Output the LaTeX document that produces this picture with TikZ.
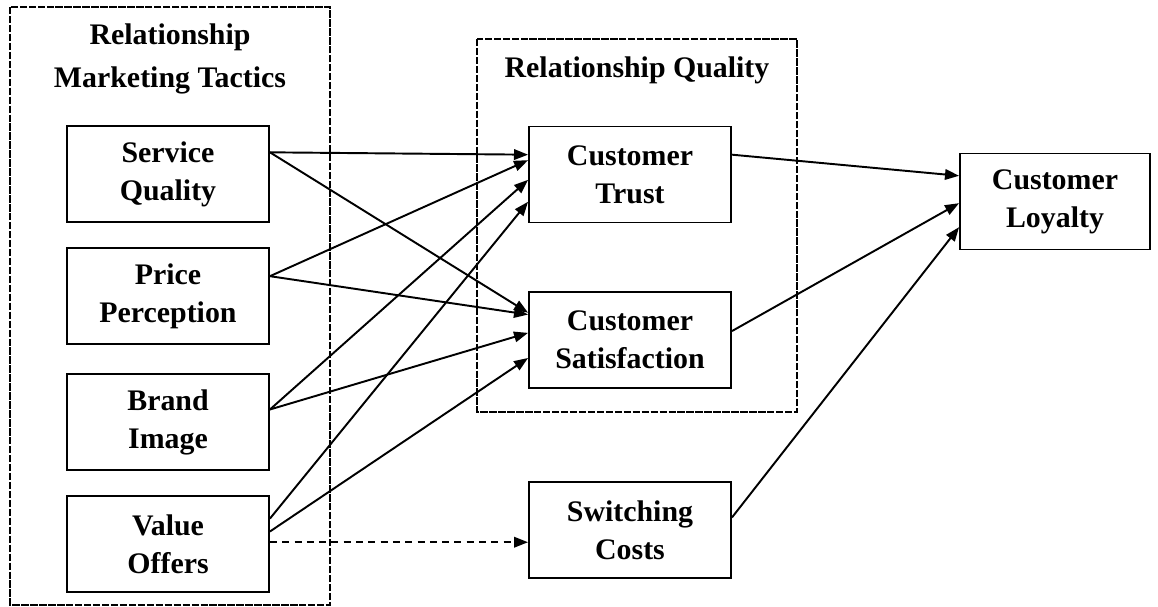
\documentclass[tikz,border=0pt]{standalone}
\usepackage{fontspec}
\setmainfont{Liberation Serif}
\usetikzlibrary{arrows.meta}

\begin{document}
\begin{tikzpicture}[x=0.02cm, y=-0.02cm,
    every node/.style={font=\fontsize{17}{21.6}\selectfont\bfseries, align=center},
    factor/.style={draw, line width=1.1pt, minimum width=4.04cm, minimum height=1.92cm, inner sep=0.001},
    group/.style={draw, line width=0.9pt, dash pattern=on 4.2pt off 0.9pt},
    link/.style={line width=1.1pt, -{Triangle[length=8pt, width=6pt]}}]
  \useasboundingbox (0,0) rectangle (1158,607);

  % Group frames & titles
  \draw[group] (10,7) rectangle (330,605);
  \draw[group] (477,39) rectangle (797,412);
  \node[font=\fontsize{17}{24}\selectfont\bfseries] (rmt) at (170,59) {Relationship\\Marketing Tactics};
  \node (rq) at (637,70) {Relationship Quality};

  % Tactics
  \foreach \name/\y/\txt in {sq/174/Service\\Quality, pp/296/Price\\Perception,
                             bi/422/Brand\\Image, vo/544/Value\\Offers} {
    \node[factor] (\name) at (168,\y) {\txt};
  }

  % Quality, costs & loyalty
  \foreach \name/\y/\txt in {ct/174.5/Customer\\Trust, cs/340/Customer\\Satisfaction,
                             sc/530/Switching\\Costs} {
    \node[factor] (\name) at (630,\y) {\txt};
  }
  \node[factor, minimum width=3.8cm] (cl) at (1055,201.5) {Customer\\Loyalty};

  % Links
  \foreach \a/\b in {sq.12/ct.169, pp.11/ct.172, bi.7/ct.183, vo.14/ct.195,
                     sq.12/cs.165, pp.11/cs.166, bi.7/cs.176, vo.7/cs.190,
                     ct.11/cl.165, cs.5/cl.181, sc.7/cl.195} {
    \draw[link] (\a) -- (\b);
  }
  \draw[link, dash pattern=on 4pt off 3pt] (vo.1) -- (vo.1 -| sc.west);
\end{tikzpicture}
\end{document}
